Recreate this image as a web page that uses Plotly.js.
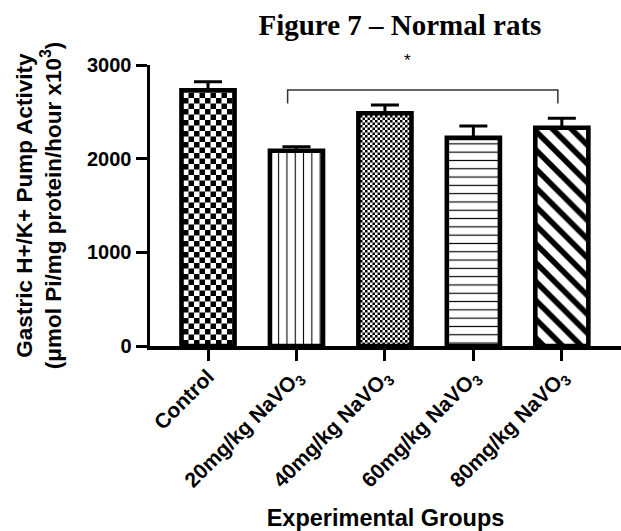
<!DOCTYPE html>
<html>
<head>
<meta charset="utf-8">
<script src="https://cdn.plot.ly/plotly-3.0.1.min.js"></script>
<style>html,body{margin:0;padding:0;background:#fff;}#chart{width:621px;height:531px;}</style>
</head>
<body>
<div id="chart"></div>
<script>
const groups = ["Control", "20mg/kg NaVO<sub>3</sub>", "40mg/kg NaVO<sub>3</sub>", "60mg/kg NaVO<sub>3</sub>", "80mg/kg NaVO<sub>3</sub>"];
const means = [2730, 2085, 2485, 2222, 2330];
const sem = [92, 42, 88, 127, 102];
const semDown = [0, 0, 0, 0, 0];
const positions = [0, 1, 2, 3, 4];
const yTicks = [0, 1000, 2000, 3000];
const yRange = [0, 3000];
const bracketGroups = [1, 4];
const bracketLevel = 2733;
const bracketDrop = 2590;
const starLevel = 3050;
const starPosition = 2.25;
const starText = "*";

// fill styles (checker cells replaced after drawing)
const patternShapes = [".", "|", ".", "-", "\\"];
const patternSizes = [11, 8.3, 5, 8.3, 13.3];
const patternSolidity = [0.5, 0.13, 0.5, 0.14, 0.42];
const checkerCell = [5.5, null, 2.5, null, null];

const traces = groups.map((g, i) => ({
  type: "bar",
  x: [positions[i]],
  y: [means[i]],
  width: 0.6,
  error_y: {type: "data", symmetric: false, array: [sem[i]], arrayminus: [semDown[i]], visible: true, color: "#000", thickness: 3, width: 14},
  marker: {
    color: "#fff",
    line: {color: "#000", width: 4.6},
    pattern: {shape: patternShapes[i], size: patternSizes[i], solidity: patternSolidity[i], fgcolor: "#000", bgcolor: "#fff", fillmode: "replace"}
  },
  showlegend: false,
  hoverinfo: "skip"
}));

// significance bracket
const bL = positions[bracketGroups[0]] - 0.10;
const bR = positions[bracketGroups[1]] - 0.045;
traces.push({
  type: "scatter", mode: "lines",
  x: [bL, bL, bR, bR],
  y: [bracketDrop, bracketLevel, bracketLevel, bracketDrop],
  line: {color: "#333", width: 1.5},
  showlegend: false, hoverinfo: "skip"
});

const F = "Arial, Liberation Sans, sans-serif";

const layout = {
  width: 621, height: 531,
  margin: {l: 150, r: 0, t: 65, b: 185},
  paper_bgcolor: "#fff", plot_bgcolor: "#fff",
  title: {text: "Figure 7 – Normal rats", font: {family: "Liberation Serif, Times New Roman, serif", size: 29, color: "#000", weight: "bold"}, x: 0.644, xanchor: "center", y: 0.953, yanchor: "middle"},
  xaxis: {
    range: [-0.656, 4.669],
    tickvals: positions, ticktext: groups,
    showline: true, linewidth: 4, linecolor: "#000",
    ticks: "outside", ticklen: 11, tickwidth: 3, tickcolor: "#000",
    tickangle: -45,
    ticklabelstandoff: -5,
    tickfont: {family: F, size: 21, color: "#000", weight: "bold"},
    showgrid: false, zeroline: false, fixedrange: true,
    title: {text: "Experimental Groups", font: {family: F, size: 23.5, color: "#000", weight: "bold"}, standoff: 19}
  },
  yaxis: {
    range: yRange,
    tickvals: yTicks,
    showline: true, linewidth: 3.5, linecolor: "#000",
    ticks: "outside", ticklen: 11, tickwidth: 3, tickcolor: "#000",
    tickfont: {family: F, size: 20, color: "#000", weight: "bold"},
    showgrid: false, zeroline: false, fixedrange: true,
    title: {text: "Gastric H+/K+ Pump Activity<br>(μmol Pi/mg protein/hour x10<sup>3</sup>)", font: {family: F, size: 22.5, color: "#000", weight: "bold"}, standoff: 20}
  },
  annotations: [{
    // star sits just above the y range, so it is placed in paper units converted from its data value
    x: starPosition, xref: "x",
    y: (starLevel - yRange[0]) / (yRange[1] - yRange[0]), yref: "paper",
    text: starText, showarrow: false, yanchor: "middle", xanchor: "center",
    font: {family: F, size: 17, color: "#000"}
  }]
};

const gd = document.getElementById("chart");
Plotly.newPlot(gd, traces, layout, {staticPlot: true, displayModeBar: false}).then(() => {
  const NS = "http://www.w3.org/2000/svg";
  const barTraces = gd.querySelectorAll(".barlayer .trace");
  barTraces.forEach((tr, i) => {
    const cell = checkerCell[i];
    if (!cell) return;
    const path = tr.querySelector(".point path");
    if (!path) return;
    const fill = path.style.fill || path.getAttribute("fill") || "";
    const m = fill.match(/#([^'")]+)/);
    if (!m) return;
    const pat = document.getElementById(m[1]);
    if (!pat) return;
    while (pat.firstChild) pat.removeChild(pat.firstChild);
    pat.setAttribute("width", 2 * cell);
    pat.setAttribute("height", 2 * cell);
    const mk = (x, y, w, h, c) => {
      const r = document.createElementNS(NS, "rect");
      r.setAttribute("x", x); r.setAttribute("y", y);
      r.setAttribute("width", w); r.setAttribute("height", h);
      r.setAttribute("fill", c);
      pat.appendChild(r);
    };
    mk(0, 0, 2 * cell, 2 * cell, "#fff");
    mk(0, 0, cell, cell, "#000");
    mk(cell, cell, cell, cell, "#000");
  });
});
</script>
</body>
</html>
